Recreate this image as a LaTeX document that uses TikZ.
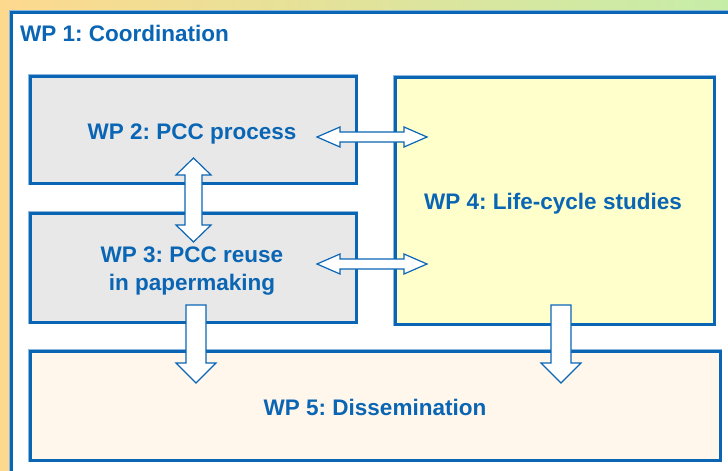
\documentclass[tikz,border=0pt]{standalone}
\usepackage{fontspec}
\setmainfont{Liberation Sans}
\frenchspacing
\definecolor{wpblue}{HTML}{0A66B4}
\definecolor{wplight}{HTML}{8CB8E0}
\definecolor{bgorange}{HTML}{FDD98E}
\definecolor{bggreen}{HTML}{C6EDA8}
\definecolor{boxgray}{HTML}{E8E8E8}
\definecolor{boxyellow}{HTML}{FFFFCC}
\definecolor{boxcream}{HTML}{FFF6EC}
\begin{document}
\begin{tikzpicture}[x=1pt,y=-1pt,
  wpbox/.style={draw=wpblue,line width=3pt,preaction={draw=wplight,line width=4.4pt}},
  wptext/.style={text=wpblue,font=\fontsize{22.5}{28}\selectfont\bfseries\frenchspacing,align=center,inner sep=0pt},
  blockarrow/.style={draw=wpblue,line width=1.2pt,fill=white,line join=miter}
]
\useasboundingbox (0,0) rectangle (728,471);
% background gradient
\fill[left color=bgorange,right color=bggreen] (0,0) rectangle (728,471);
% WP1 outer box
\draw[wpbox,fill=white] (11,12) rectangle (740,485);
\node[wptext,anchor=west] (wp1) at (20,33) {WP 1: Coordination};
% boxes
\draw[wpbox,fill=boxgray] (30,76) rectangle (356,183);
\draw[wpbox,fill=boxgray] (30,213) rectangle (356,322);
\draw[wpbox,fill=boxyellow] (395,77) rectangle (714,324);
\draw[wpbox,fill=boxcream] (30,351) rectangle (720,460);
% texts
\node[wptext] (wp2) at (192,134) {WP 2: PCC process};
\node[wptext] (wp3) at (192,271) {WP 3: PCC reuse\\in papermaking};
\node[wptext] (wp4) at (553,204) {WP 4: Life-cycle studies};
\node[wptext] (wp5) at (375,407) {WP 5: Dissemination};
% horizontal double arrows (WP2<->WP4, WP3<->WP4)
\foreach \yc in {137,264}{
  \draw[blockarrow] (317,\yc) -- (340,\yc-10) -- (340,\yc-5) -- (404,\yc-5) -- (404,\yc-10)
    -- (427,\yc) -- (404,\yc+10) -- (404,\yc+5) -- (340,\yc+5) -- (340,\yc+10) -- cycle;
}
% vertical double arrow WP2<->WP3
\draw[blockarrow] (193.5,158) -- (211,175) -- (202,175) -- (202,225) -- (211,225)
  -- (193.5,242) -- (176,225) -- (185,225) -- (185,175) -- (176,175) -- cycle;
% down arrows to WP5
\foreach \xc in {196,561}{
  \draw[blockarrow] (\xc-10,305) -- (\xc+10,305) -- (\xc+10,363) -- (\xc+20,363)
    -- (\xc,383) -- (\xc-20,363) -- (\xc-10,363) -- cycle;
}
\end{tikzpicture}
\end{document}
